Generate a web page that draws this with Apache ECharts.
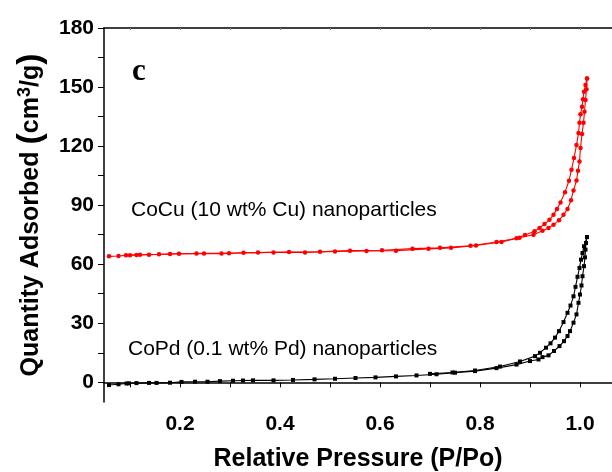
<!DOCTYPE html>
<html><head><meta charset="utf-8">
<script src="https://cdn.jsdelivr.net/npm/echarts@6/dist/echarts.min.js"></script>
<style>html,body{margin:0;padding:0;background:#fff}#c{width:612px;height:472px}</style>
</head><body><div id="c"></div>
<script>
// Relative pressure ticks / labels
const xTicks = [0.1,0.2,0.3,0.4,0.5,0.6,0.7,0.8,0.9,1.0];
const xLabels = [0.2,0.4,0.6,0.8,1.0];
const yTicks = [0,15,30,45,60,75,90,105,120,135,150,165,180];
const yLabels = [0,30,60,90,120,150,180];

// CoCu (10 wt% Cu): adsorption branch [P/Po, cm3/g]
const cocuAds = [[0.058,64.0],[0.077,64.2],[0.092,64.5],[0.113,64.7],[0.138,64.8],[0.18,65.2],[0.233,65.4],[0.283,65.4],[0.327,65.8],[0.387,66.0],[0.45,66.0],[0.51,66.5],[0.573,66.7],[0.632,66.9],[0.697,67.8],[0.742,68.3],[0.792,69.5],[0.843,71.3],[0.879,73.5],[0.907,75.0],[0.925,77.0],[0.937,78.4],[0.947,80.1],[0.958,82.3],[0.967,85.1],[0.975,88.0],[0.982,92.5],[0.987,97.5],[0.993,102.5],[0.996,107.5],[0.999,112.2],[1.001,119.0],[1.004,126.2],[1.007,131.9],[1.009,137.5],[1.011,143.4],[1.013,148.9],[1.014,154.4]];
// CoCu desorption branch
const cocuDes = [[1.014,154.4],[1.011,151.0],[1.008,147.6],[1.006,143.8],[1.004,140.0],[1.001,136.2],[0.999,131.9],[0.997,126.6],[0.993,120.5],[0.988,113.9],[0.983,108.0],[0.978,102.4],[0.970,96.6],[0.961,91.4],[0.954,88.0],[0.947,85.1],[0.939,82.6],[0.929,80.4],[0.919,78.4],[0.909,76.7],[0.89,74.8],[0.873,73.2],[0.833,71.3],[0.781,69.4],[0.72,68.3],[0.665,67.9],[0.604,67.1],[0.54,66.9],[0.48,66.3],[0.418,66.2],[0.356,65.9],[0.298,65.6],[0.248,65.5],[0.198,65.3],[0.158,65.0],[0.12,64.8],[0.1,64.6]];

// CoPd (0.1 wt% Pd): adsorption branch
const copdAds = [[0.058,-1.4],[0.077,-1.0],[0.093,-0.6],[0.098,-0.5],[0.113,-0.4],[0.138,-0.3],[0.153,-0.3],[0.18,-0.2],[0.203,0.2],[0.23,0.3],[0.255,0.3],[0.28,0.6],[0.306,0.8],[0.326,0.9],[0.346,1.0],[0.387,1.0],[0.426,1.2],[0.469,1.5],[0.51,1.8],[0.551,2.2],[0.591,2.5],[0.632,3.0],[0.673,3.5],[0.713,4.1],[0.75,4.9],[0.79,5.7],[0.833,7.2],[0.873,9.0],[0.90,10.8],[0.917,11.6],[0.925,12.8],[0.937,13.7],[0.948,15.9],[0.959,18.4],[0.968,20.9],[0.975,23.5],[0.98,26.0],[0.987,30.3],[0.993,34.5],[0.997,40.4],[1.000,44.6],[1.003,49.2],[1.005,53.9],[1.008,59.0],[1.010,63.5],[1.011,67.4],[1.012,70.8],[1.014,73.8]];
// CoPd desorption branch
const copdDes = [[1.014,73.8],[1.008,69.1],[1.005,65.7],[1.002,62.3],[0.999,58.1],[0.995,53.6],[0.991,48.5],[0.987,43.7],[0.981,39.0],[0.975,35.3],[0.967,30.6],[0.958,26.0],[0.950,22.7],[0.941,19.8],[0.932,17.6],[0.92,15.0],[0.91,13.3],[0.88,10.6],[0.84,8.0],[0.79,6.0],[0.745,5.0],[0.70,4.3]];

const chart = echarts.init(document.getElementById('c'), null, {renderer:'canvas'});
const F = 'Liberation Sans, Arial, sans-serif';
function ser(data, color, sym, size, name){
  return {type:'line', name, data, showSymbol:true, symbol:sym, symbolSize:size,
    lineStyle:{color, width:1.1}, itemStyle:{color}, animation:false, silent:true, z:3};
}
chart.setOption({
  animation:false,
  backgroundColor:'#fff',
  grid:{left:104, top:28, right:0, bottom:70, outerBoundsMode:'none', containLabel:false},
  xAxis:[{
    type:'value', min:0.048, max:1.064, position:'bottom',
    name:'Relative Pressure (P/Po)', nameLocation:'middle', nameGap:45,
    nameTextStyle:{fontFamily:F, fontWeight:'bold', fontSize:25, color:'#000'},
    axisLine:{lineStyle:{color:'#000', width:1.5}},
    axisTick:{show:true, length:5, customValues:xTicks, lineStyle:{color:'#000', width:1}},
    axisLabel:{customValues:xLabels, margin:12, fontFamily:F, fontWeight:'bold', fontSize:21, color:'#000',
      formatter:v=>v.toFixed(1)},
    splitLine:{show:false}
  },{
    type:'value', min:0.048, max:1.064, position:'top',
    axisLine:{lineStyle:{color:'#000', width:1.5}},
    axisTick:{show:true, inside:true, length:2, customValues:xTicks, lineStyle:{color:'#888'}},
    axisLabel:{show:false}, splitLine:{show:false}
  }],
  yAxis:{
    type:'value', min:-10, max:180,
    name:'{t|Quantity Adsorbed }{p|(}{t|cm}{s|3}{t|/g}{p|)}', nameLocation:'middle', nameGap:55, nameRotate:90,
    nameTextStyle:{rich:{
      t:{fontFamily:F, fontWeight:'bold', fontSize:25, color:'#000'},
      s:{fontFamily:F, fontWeight:'bold', fontSize:18, color:'#000', padding:[0,0,12,0]},
      p:{fontFamily:F, fontWeight:'bold', fontSize:34, color:'#000'}
    }},
    axisLine:{lineStyle:{color:'#000', width:1.5}},
    axisTick:{show:true, length:6, customValues:yTicks, lineStyle:{color:'#000', width:1}},
    axisLabel:{customValues:yLabels, margin:10, fontFamily:F, fontWeight:'bold', fontSize:21, color:'#000'},
    splitLine:{show:false}
  },
  graphic:[
    {type:'text', left:132, top:56, style:{text:'c', font:'bold 31px "Liberation Serif", "Times New Roman", serif', fill:'#000'}},
    {type:'text', left:131, top:200, style:{text:'CoCu (10 wt% Cu) nanoparticles', font:'21px "Liberation Sans", Arial, sans-serif', fill:'#000'}},
    {type:'text', left:128, top:339, style:{text:'CoPd (0.1 wt% Pd) nanoparticles', font:'21px "Liberation Sans", Arial, sans-serif', fill:'#000'}}
  ],
  series:[
    ser(cocuAds,'#ff0000','circle',4.5,'CoCu ads'),
    ser(cocuDes,'#ff0000','circle',4.5,'CoCu des'),
    ser(copdAds,'#000000','rect',4,'CoPd ads'),
    ser(copdDes,'#000000','rect',4,'CoPd des')
  ]
});
</script></body></html>
